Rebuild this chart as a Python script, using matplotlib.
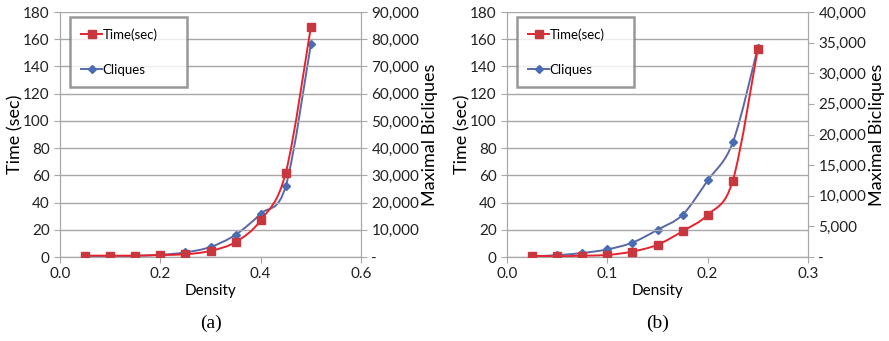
import numpy as np
import matplotlib.pyplot as plt
from matplotlib.path import Path
from matplotlib.patches import PathPatch
from matplotlib.lines import Line2D
from matplotlib.ticker import FuncFormatter, MultipleLocator

plt.rcParams['font.family'] = ['Lato', 'DejaVu Sans']

# panel (a)
density_a = [0.05, 0.10, 0.15, 0.20, 0.25, 0.30, 0.35, 0.40, 0.45, 0.50]
time_a = [1, 1, 1, 1.5, 2, 4.5, 11, 27, 62, 169]
cliques_a = [100, 200, 400, 800, 1700, 3700, 8200, 15900, 26100, 78100]

# panel (b)
density_b = [0.025, 0.05, 0.075, 0.10, 0.125, 0.15, 0.175, 0.20, 0.225, 0.25]
time_b = [1, 0.5, 1, 1.5, 4, 9, 19, 31, 56, 153]
cliques_b = [100, 300, 650, 1250, 2350, 4450, 6900, 12500, 18700, 34200]

RED_LINE = '#e8222c'
RED_MARK = '#c8373e'
BLUE_LINE = '#5a68a8'
BLUE_MARK = '#4a6cb3'
GRID = '#a8a8a8'


def smooth_path(x, y):
    # Excel-like smoothed line: cubic bezier with catmull-rom tangents
    pts = np.column_stack([x, y]).astype(float)
    n = len(pts)
    verts = [pts[0]]
    codes = [Path.MOVETO]
    for i in range(n - 1):
        p0 = pts[max(i - 1, 0)]
        p1 = pts[i]
        p2 = pts[i + 1]
        p3 = pts[min(i + 2, n - 1)]
        c1 = p1 + (p2 - p0) / 6.0
        c2 = p2 - (p3 - p1) / 6.0
        verts += [c1, c2, p2]
        codes += [Path.CURVE4] * 3
    return Path(verts, codes)


def right_fmt(v, pos):
    if abs(v) < 1e-9:
        return '-'
    return f'{int(v):,}'


def panel(rect, x, t, c, xmax, xstep, rmax, rstep, caption):
    ax = fig.add_axes(rect)
    ax2 = ax.twinx()
    ax.set_zorder(ax2.get_zorder() + 1)
    ax.patch.set_visible(False)

    ax.set_xlim(0, xmax)
    ax.set_ylim(0, 180)
    ax2.set_ylim(0, rmax)
    ax.xaxis.set_major_locator(MultipleLocator(xstep))
    ax.yaxis.set_major_locator(MultipleLocator(20))
    ax2.yaxis.set_major_locator(MultipleLocator(rstep))
    ax.xaxis.set_major_formatter(FuncFormatter(lambda v, p: f'{v:.1f}'))
    ax2.yaxis.set_major_formatter(FuncFormatter(right_fmt))

    ax.grid(axis='y', color=GRID, lw=1.0)
    ax.set_axisbelow(True)

    for a in (ax, ax2):
        for s in a.spines.values():
            s.set_color(GRID)
        a.spines['top'].set_visible(False)
        a.tick_params(colors=GRID, labelcolor='#222222', labelsize=11, length=4)

    ax2.add_patch(PathPatch(smooth_path(x, c), fill=False, ec=BLUE_LINE, lw=1.4, zorder=2))
    ax2.plot(x, c, ls='none', marker='D', ms=4, color=BLUE_MARK, zorder=3)
    ax.add_patch(PathPatch(smooth_path(x, t), fill=False, ec=RED_LINE, lw=1.4, zorder=2))
    ax.plot(x, t, ls='none', marker='s', ms=5.5, color=RED_MARK, zorder=3)

    ax.set_xlabel('Density', fontsize=11, labelpad=2)
    ax.set_ylabel('Time (sec)', fontsize=13, labelpad=0)
    ax2.set_ylabel('Maximal Bicliques', fontsize=13, labelpad=2)

    handles = [Line2D([], [], color=RED_LINE, lw=1.4, marker='s', ms=5.5,
                      mfc=RED_MARK, mec=RED_MARK),
               Line2D([], [], color=BLUE_LINE, lw=1.4, marker='D', ms=4,
                      mfc=BLUE_MARK, mec=BLUE_MARK)]
    leg = ax.legend(handles, ['Time(sec)', 'Cliques'], loc='upper left',
                    bbox_to_anchor=(0.033, 0.98, 0.39, 0.0), mode='expand',
                    fontsize=9.5, frameon=True, fancybox=False, labelspacing=1.75,
                    borderpad=0.85, handlelength=1.6, handletextpad=0.0,
                    borderaxespad=0)
    leg.get_frame().set_edgecolor('#7f7f7f')
    leg.get_frame().set_linewidth(1.8)

    ax.text(0.5, -0.235, caption, transform=ax.transAxes, ha='center', va='top',
            fontsize=14, family='Liberation Serif')
    return ax


fig = plt.figure(figsize=(8.89, 3.41), dpi=100)
panel([0.0675, 0.2463, 0.3386, 0.7185], density_a, time_a, cliques_a,
      0.6, 0.2, 90000, 10000, '(a)')
panel([0.5703, 0.2463, 0.3386, 0.7185], density_b, time_b, cliques_b,
      0.3, 0.1, 40000, 5000, '(b)')

fig.savefig('out.png', dpi=100)
